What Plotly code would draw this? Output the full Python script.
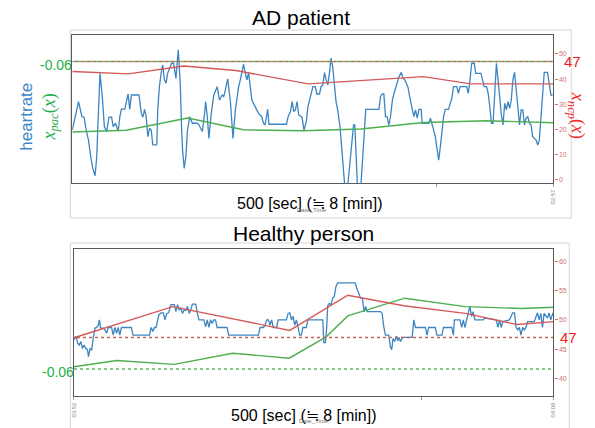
import plotly.graph_objects as go

# ---------------- DATA ----------------
# AD patient: heart rate (bpm) over 500 s
AD_T1 = [0, 3.1, 6.5, 10.0, 12.3, 14.4, 16.8, 19.2, 21.3, 23.7, 25.4, 27.1, 28.8, 31.2, 33.3, 35.7, 38.1, 40.8, 42.5, 44.9,
         47.7, 49.4, 51.1, 54.5, 56.2, 58.0, 59.7, 61.4, 69.3, 71.7, 73.4, 75.1, 76.8, 78.5, 80.3, 82.0, 83.7, 87.8, 88.8, 90.5,
         92.3, 94.0, 95.7, 97.4, 99.1, 101.5, 103.2, 105.3, 107.7, 110.1, 112.2, 113.5, 114.6, 116.3, 118.0, 119.7, 122.1, 124.8, 130.0, 131.7,
         135.1, 137.5, 138.6, 140.3, 142.0, 144.4, 147.1, 150.6, 153.0, 155.7, 157.4, 159.1, 161.5, 164.3, 167.0]
AD_HR1 = [19.8, 25.1, 31.1, 25.1, 24.9, 19.8, 15.9, 9.2, 4.6, 1.7, 9.2, 26.4, 42.3, 33.1, 21.2, 19.2, 24.9, 24.9, 21.2, 22.5,
          19.4, 25.1, 28.2, 28.0, 31.7, 34.1, 28.0, 33.7, 33.7, 26.4, 24.9, 28.0, 25.1, 17.2, 20.5, 19.8, 13.9, 13.9, 27.8, 37.0,
          42.3, 45.6, 39.7, 38.4, 42.3, 44.3, 46.3, 46.3, 40.3, 51.6, 38.4, 21.2, 11.9, 4.6, 9.2, 19.8, 25.1, 22.5, 22.5, 21.8,
          19.2, 26.4, 31.1, 25.1, 16.5, 26.4, 33.7, 37.0, 31.7, 33.7, 33.1, 35.7, 40.1, 31.1, 16.5]
AD_T2 = [169.5, 171.2, 172.9, 174.6, 176.3, 178.0, 179.8, 181.5, 183.2, 184.9, 186.6, 190.0, 193.5, 196.9, 198.6, 200.3, 202.0, 203.1, 204.4, 222.6,
         224.3, 226.7, 228.5, 230.2, 231.9, 233.6, 235.3, 238.7, 240.8, 243.2, 244.9, 246.6, 248.4, 250.1, 252.5, 254.2, 256.9, 258.6, 260.4, 262.1,
         263.8, 265.5, 267.2, 268.9, 270.6, 272.4, 274.1, 275.8, 278.2, 279.9, 281.6, 283.3, 286.1, 288.8, 290.9, 292.3, 293.6, 294.7, 296.4, 299.8,
         301.5, 303.2, 305.0, 318.7, 320.4, 322.1, 323.8, 325.5, 327.2, 329.0, 330.7]
AD_HR2 = [27.8, 33.1, 37.0, 39.7, 42.3, 45.9, 42.3, 39.7, 42.6, 37.0, 31.7, 29.1, 26.4, 25.1, 22.5, 21.8, 25.1, 28.0, 22.1, 22.1,
          25.1, 27.1, 31.1, 27.1, 27.8, 31.1, 25.8, 24.9, 19.8, 23.1, 29.1, 31.7, 34.4, 37.0, 37.0, 34.1, 34.1, 37.0, 37.7, 42.6,
          39.7, 37.7, 42.3, 48.3, 45.0, 37.0, 31.1, 27.8, 21.2, 13.2, 5.3, -3, -3, 9.2, 15.9, 21.8, 21.8, 9.2, -3, -3,
          9.2, 17.2, 28.0, 28.0, 33.1, 34.1, 34.1, 25.1, 25.1, 21.8, 25.1]
AD_T3 = [332.7, 334.4, 336.2, 337.9, 339.6, 342.0, 343.7, 345.4, 347.1, 348.9, 350.6, 351.6, 353.3, 355.0, 356.7, 358.5, 360.2, 362.6, 363.6, 370.5,
         372.2, 373.9, 375.6, 377.3, 379.0, 380.8, 382.5, 384.2, 385.9, 387.6, 391.0, 392.8, 394.5, 396.2, 399.6, 401.3, 403.0, 409.9, 411.6, 413.3,
         415.1, 417.8, 419.2, 424.7, 426.0, 428.1, 430.5, 432.2, 433.9, 435.6, 437.3, 439.1, 440.8, 442.5, 444.2, 445.9, 447.6, 449.4, 451.1, 452.8,
         454.5, 456.2, 457.9, 459.6, 461.4, 463.1, 464.8, 466.5, 468.2, 469.9, 471.6, 473.4, 475.1, 476.8, 478.5, 481.9, 483.7, 485.4, 487.1, 488.8,
         490.5, 493.9, 495.7, 497.4, 499.1]
AD_HR3 = [31.7, 34.4, 37.0, 39.7, 41.0, 42.7, 40.3, 39.9, 38.4, 36.8, 33.1, 31.1, 27.8, 25.1, 27.8, 24.5, 28.0, 28.0, 22.5, 22.5,
          24.5, 21.8, 19.8, 17.2, 12.5, 7.9, 13.2, 19.8, 25.1, 28.0, 28.0, 30.4, 32.4, 37.0, 37.0, 34.4, 37.0, 37.0, 34.4, 39.7,
          46.3, 46.3, 42.3, 42.3, 39.7, 37.0, 37.0, 34.4, 29.1, 22.5, 22.5, 33.1, 46.3, 39.7, 31.1, 25.8, 21.8, 30.4, 27.8, 31.1,
          28.4, 31.7, 39.7, 42.7, 35.7, 27.8, 21.8, 27.8, 27.8, 21.8, 24.5, 25.1, 22.5, 21.8, 17.2, 15.9, 13.9, 15.9, 26.4, 35.7,
          42.7, 42.7, 38.4, 33.7, 33.7]
AD_NCP_T = [0, 58, 116, 170, 245, 365, 414, 500]
AD_NCP = [43.0, 42.1, 45.2, 43.4, 38.1, 41.0, 38.1, 38.1]
AD_PAC_T = [0, 56, 120, 178, 240, 300, 365, 430, 500]
AD_PAC = [19.0, 19.7, 24.6, 19.9, 19.5, 20.2, 22.8, 23.5, 22.7]
AD_NCP_THR = 47
AD_PAC_THR = 47
AD_TICKS = [0, 10, 20, 30, 40, 50]

# Healthy person
HP_T1 = [0, 2.4, 3.75, 5.5, 7.2, 8.9, 10.6, 12.4, 14.1, 15.1, 16.8, 18.5, 20.3, 22.0, 23.7, 25.4, 26.5, 27.8, 30.6, 32.3,
         34.0, 35.8, 39.2, 40.9, 42.6, 44.4, 46.1, 47.8, 49.5, 59.8, 61.6, 78.8, 80.5, 82.2, 83.9, 85.6, 88.4, 90.8, 93.2, 94.9,
         96.7, 98.7, 101.1, 104.6, 106.3, 108.0, 109.7, 111.5, 113.2, 114.9, 116.6, 118.3, 120.1, 121.8, 123.5, 127.0, 128.7, 130.4, 135.5, 137.3,
         139.0, 140.7, 142.4, 144.1, 145.9, 147.6, 149.3, 159.6, 161.3]
HP_HR1 = [46.6, 47.2, 46.0, 45.7, 46.3, 45.1, 45.7, 45.1, 44.9, 43.7, 45.1, 44.9, 47.1, 48.6, 48.7, 49.1, 50.0, 48.6, 48.6, 48.3,
          47.7, 48.7, 48.7, 47.4, 48.7, 47.7, 48.7, 47.4, 48.7, 48.7, 47.4, 47.4, 48.7, 48.0, 48.7, 48.7, 50.8, 51.2, 51.2, 50.0,
          51.1, 51.2, 52.6, 52.6, 51.4, 52.6, 51.7, 52.0, 51.1, 51.7, 51.6, 52.3, 51.1, 51.7, 52.7, 52.7, 51.1, 50.0, 50.0, 48.8,
          50.0, 48.7, 50.0, 49.4, 50.0, 50.0, 48.7, 48.7, 47.4]
HP_T2 = [192.4, 194.1, 197.5, 199.3, 201.0, 202.7, 204.4, 206.1, 207.9, 211.3, 213.0, 221.6, 223.3, 225.1, 226.8, 228.5, 230.2, 232.0, 233.7, 235.4,
         237.1, 238.8, 242.3, 244.0, 259.5, 260.5, 262.2, 263.6, 264.6, 266.3, 268.1, 269.8, 271.5, 273.2, 275.0, 293.2, 295.6, 299.0, 300.8, 302.5,
         304.2, 305.9, 319.7, 321.4, 323.1, 324.9, 328.3, 330.0]
HP_HR2 = [47.4, 48.7, 48.7, 49.1, 50.0, 50.0, 49.1, 50.0, 48.7, 48.7, 50.0, 50.0, 51.1, 51.2, 50.0, 50.6, 49.1, 50.0, 48.8, 47.4,
          47.4, 48.7, 48.7, 50.0, 50.0, 46.1, 46.1, 48.8, 52.4, 52.8, 52.6, 53.7, 54.0, 55.7, 56.3, 56.3, 55.1, 53.7, 53.7, 51.4,
          52.3, 51.4, 51.4, 51.1, 48.8, 47.4, 47.4, 45.4]
HP_T3 = [331.4, 332.7, 334.5, 336.2, 337.9, 338.9, 340.6, 342.4, 352.7, 354.4, 356.1, 366.5, 368.2, 369.9, 376.8, 378.5, 383.7, 385.4, 394.0, 395.7,
         396.7, 402.6, 404.3, 406.0, 407.7, 409.5, 411.2, 412.9, 414.6, 416.3, 418.1, 426.7, 428.4, 440.4, 442.2, 443.9, 445.6, 447.3, 454.2, 457.6,
         459.4, 461.1, 462.8, 464.5, 466.2, 468.0, 469.7, 471.4, 473.1, 480.0, 483.4, 485.2, 486.9, 488.6, 490.3, 493.8, 495.5, 497.2, 499.6]
HP_HR3 = [44.9, 46.8, 46.3, 47.2, 46.4, 47.0, 46.3, 47.0, 47.0, 50.0, 48.7, 48.7, 47.4, 48.7, 48.7, 47.4, 47.4, 48.7, 48.7, 47.4,
          50.0, 50.0, 48.7, 50.0, 48.7, 50.0, 51.2, 52.3, 50.6, 51.4, 50.0, 50.0, 50.3, 50.0, 48.7, 50.0, 48.7, 49.7, 50.0, 51.2,
          51.2, 48.7, 48.3, 48.7, 47.4, 48.7, 48.3, 48.7, 49.7, 49.7, 51.2, 50.0, 51.1, 48.7, 51.1, 50.3, 51.2, 50.0, 51.2]
HP_NCP_T = [0, 103, 225, 285.5, 344, 408, 462, 500]
HP_NCP = [46.95, 52.26, 48.2, 54.2, 52.4, 51.1, 49.2, 49.7]
HP_PAC_T = [0, 44.5, 104.6, 165.5, 224.5, 263, 285.5, 345, 408, 466, 500]
HP_PAC = [42.0, 43.05, 42.4, 44.3, 43.45, 47.1, 50.67, 53.7, 52.26, 51.95, 52.16]
HP_NCP_THR = 47
HP_PAC_THR = 41.6
HP_TICKS = [40, 45, 50, 55, 60]

# ---------------- FIGURE ----------------
W, H = 595, 428
def px(x): return x / W
def py(y): return 1 - y / H

BLUE = "#3d85c0"
RED = "#d65a5a"
GREEN = "#4caf50"
T_END = 500

fig = go.Figure()

def add_panel(t, hr, ncp_t, ncp, pac_t, pac, ncp_thr, pac_thr, xa, ya):
    fig.add_trace(go.Scatter(x=t, y=hr, mode="lines", line=dict(color=BLUE, width=1.3),
                             xaxis=xa, yaxis=ya, showlegend=False, hoverinfo="skip"))
    fig.add_trace(go.Scatter(x=pac_t, y=pac, mode="lines", line=dict(color=GREEN, width=1.4),
                             xaxis=xa, yaxis=ya, showlegend=False, hoverinfo="skip"))
    fig.add_trace(go.Scatter(x=ncp_t, y=ncp, mode="lines", line=dict(color=RED, width=1.4),
                             xaxis=xa, yaxis=ya, showlegend=False, hoverinfo="skip"))
    fig.add_trace(go.Scatter(x=[0, T_END], y=[pac_thr, pac_thr], mode="lines",
                             line=dict(color="#5cb85c", width=1.4, dash="3px,3px"),
                             xaxis=xa, yaxis=ya, showlegend=False, hoverinfo="skip"))
    fig.add_trace(go.Scatter(x=[0, T_END], y=[ncp_thr, ncp_thr], mode="lines",
                             line=dict(color="#c8605a", width=1.4, dash="0px,3px,3px,0px"),
                             xaxis=xa, yaxis=ya, showlegend=False, hoverinfo="skip"))

add_panel(AD_T1 + AD_T2 + AD_T3, AD_HR1 + AD_HR2 + AD_HR3, AD_NCP_T, AD_NCP, AD_PAC_T, AD_PAC,
          AD_NCP_THR, AD_PAC_THR, "x", "y")
add_panel(HP_T1 + HP_T2 + HP_T3, HP_HR1 + HP_HR2 + HP_HR3, HP_NCP_T, HP_NCP, HP_PAC_T, HP_PAC,
          HP_NCP_THR, HP_PAC_THR, "x2", "y2")

SPINE = "#5a5a5a"
TICKRED = "#d07070"
common_x = dict(showgrid=False, zeroline=False, showline=True, linecolor=SPINE, linewidth=1.3,
                mirror=True, ticks="outside", ticklen=3, tickcolor="#999",
                tickangle=-90, tickfont=dict(size=6, color="#888", family="Liberation Sans"))
common_y = dict(showgrid=False, zeroline=False, showline=True, linecolor=SPINE, linewidth=1.3,
                mirror=True, side="right", ticks="outside", ticklen=3, tickcolor=TICKRED,
                tickfont=dict(size=7, color=TICKRED, family="Liberation Sans"))

fig.update_layout(
    width=W, height=H, margin=dict(l=0, r=0, t=0, b=0),
    paper_bgcolor="white", plot_bgcolor="white",
    xaxis=dict(domain=[px(70), px(556)], range=[0, T_END], anchor="y",
               tickvals=[T_END], ticktext=["02:57"],
               minor=dict(tickvals=[378.6], ticks="outside", ticklen=3, tickcolor="#999"),
               **common_x),
    yaxis=dict(domain=[py(183), py(35)], range=[-1.2, 57.5], anchor="x",
               tickvals=AD_TICKS, **common_y),
    xaxis2=dict(domain=[px(71.7), px(556)], range=[0, T_END], anchor="y2",
                tickvals=[0, T_END], ticktext=["03:52", "04:09"],
                minor=dict(tickvals=[362.7], ticks="outside", ticklen=3, tickcolor="#999"),
                **common_x),
    yaxis2=dict(domain=[py(396), py(249)], range=[37, 62.1], anchor="x2",
                tickvals=HP_TICKS, **common_y),
    yaxis3=dict(overlaying="y", anchor="x", side="left", range=[-1.2, 57.5], showgrid=False,
                zeroline=False, showticklabels=False, ticks="outside", ticklen=2,
                tickcolor="#e9b79a", dtick=3.5),
    yaxis4=dict(overlaying="y2", anchor="x2", side="left", range=[37, 62.1], showgrid=False,
                zeroline=False, showticklabels=False, ticks="outside", ticklen=2,
                tickcolor="#e9b79a", dtick=1.5),
    showlegend=False,
)

# panel frames
for (x0, y0, x1, y1) in [(68, 30, 574, 218), (68, 243, 572, 432)]:
    fig.add_shape(type="rect", xref="paper", yref="paper", x0=px(x0), x1=px(x1),
                  y0=py(y1), y1=py(y0), line=dict(color="#d6d6d6", width=1), layer="below")

SANS = "Liberation Sans, Arial, Helvetica, sans-serif"
def note(text, x, y, size, color="black", angle=0, family=SANS, xanchor="center"):
    fig.add_annotation(text=text, x=px(x), y=py(y), xref="paper", yref="paper",
                       showarrow=False, textangle=angle, xanchor=xanchor, yanchor="middle",
                       font=dict(size=size, color=color, family=family))

note("AD patient", 301, 18, 21)
note("Healthy person", 303.5, 233, 21)
note("500 [sec] (≒ 8 [min])", 310.5, 203, 16)
note("500 [sec] (≒ 8 [min])", 304.5, 415, 16)
note("Date_Time", 312, 210, 6, "#777")
note("Date_Time", 314, 421, 6, "#777")

note("heartrate", 23, 117, 17, "#3a86c8", angle=-90)
MATH = "Liberation Serif, DejaVu Serif, serif"
note("<i>x</i><sub><i>pac</i></sub>(<i>x</i>)", 47, 117, 18, "#1fae4b", angle=-90, family=MATH)
note("<i>x</i><sub><i>ncp</i></sub>(<i>x</i>)", 580, 115, 18, "#f02828", angle=90, family=MATH)

note("-0.06", 54, 65, 14, "#22b14c")
note("-0.06", 56, 372, 14, "#22b14c")
note("47", 575, 61, 15, "#f02020")
note("47", 571.5, 337, 15, "#f02020")

fig.write_html("out.html", config={"displayModeBar": False},
               post_script="document.body.style.margin='0px';")
